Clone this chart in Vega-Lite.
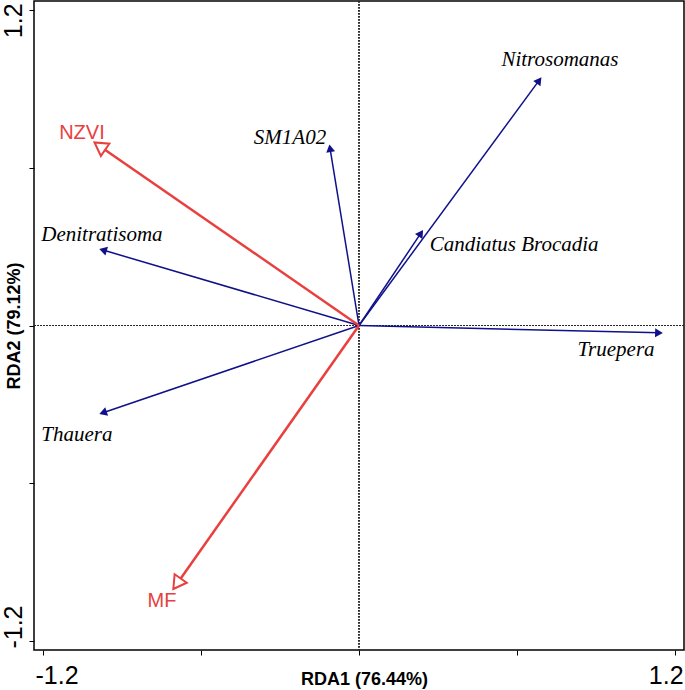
{
  "$schema": "https://vega.github.io/schema/vega-lite/v6.json",
  "width": 650,
  "height": 649,
  "autosize": "none",
  "padding": {"left": 34, "top": 1, "right": 1, "bottom": 40},
  "background": "white",
  "config": {
    "view": {"stroke": "black", "strokeWidth": 1.5},
    "axis": {
      "grid": false,
      "domain": false,
      "ticks": true,
      "tickColor": "black",
      "tickSize": 5,
      "tickWidth": 1,
      "labelFont": "Liberation Sans",
      "labelFontSize": 25,
      "labelColor": "black",
      "titleFont": "Liberation Sans",
      "titleFontSize": 18,
      "titleFontWeight": "bold",
      "titleColor": "black"
    }
  },
  "data": {
    "values": [
      {"name": "Nitrosomanas", "type": "species", "x": 0.684, "y": 0.932, "lx": 0.763, "ly": 1.008},
      {"name": "Candiatus Brocadia", "type": "species", "x": 0.235, "y": 0.351, "lx": 0.589, "ly": 0.306},
      {"name": "SM1A02", "type": "species", "x": -0.110, "y": 0.674, "lx": -0.262, "ly": 0.712},
      {"name": "Denitratisoma", "type": "species", "x": -0.972, "y": 0.287, "lx": -0.976, "ly": 0.344},
      {"name": "Thauera", "type": "species", "x": -0.972, "y": -0.332, "lx": -1.071, "ly": -0.416},
      {"name": "Truepera", "type": "species", "x": 1.139, "y": -0.028, "lx": 0.976, "ly": -0.093},
      {"name": "NZVI", "type": "env", "x": -0.984, "y": 0.682, "lx": -1.052, "ly": 0.731},
      {"name": "MF", "type": "env", "x": -0.691, "y": -0.982, "lx": -0.748, "ly": -1.046}
    ]
  },
  "transform": [
    {"calculate": "atan2(datum.x, datum.y) * 180 / PI", "as": "ang"}
  ],
  "encoding": {
    "x": {
      "field": "x", "type": "quantitative",
      "scale": {"domain": [-1.234, 1.234], "nice": false, "zero": false},
      "axis": {
        "title": "RDA1 (76.44%)",
        "titleX": 330,
        "values": [-1.2, -0.6, 0, 0.6, 1.2],
        "labelExpr": "datum.value < -1 ? '-1.2' : (datum.value > 1 ? '1.2' : '')",
        "labelFlush": 15,
        "labelFlushOffset": 8,
        "labelPadding": 8,
        "titlePadding": -18
      }
    },
    "y": {
      "field": "y", "type": "quantitative",
      "scale": {"domain": [-1.234, 1.234], "nice": false, "zero": false},
      "axis": {
        "title": "RDA2 (79.12%)",
        "values": [-1.2, -0.6, 0, 0.6, 1.2],
        "labelExpr": "datum.value < -1 ? '-1.2' : (datum.value > 1 ? '1.2' : '')",
        "labelAngle": -90,
        "labelFlush": false,
        "labelAlign": {"condition": {"test": "datum.value > 0", "value": "right"}, "value": "left"},
        "labelOffset": {"condition": {"test": "datum.value > 0", "value": -7}, "value": 7},
        "labelPadding": 3,
        "titlePadding": -22
      }
    }
  },
  "layer": [
    {
      "mark": {"type": "rule", "stroke": "#222", "strokeWidth": 0.6, "strokeDash": [1.5, 1.5]},
      "encoding": {"x": {"datum": 0}, "y": null}
    },
    {
      "mark": {"type": "rule", "stroke": "#222", "strokeWidth": 0.6, "strokeDash": [1.5, 1.5]},
      "encoding": {"y": {"datum": 0}, "x": null}
    },
    {
      "transform": [{"filter": "datum.type == 'species'"}],
      "mark": {"type": "rule", "stroke": "#10108a", "strokeWidth": 1.5},
      "encoding": {"x2": {"datum": 0}, "y2": {"datum": 0}}
    },
    {
      "transform": [{"filter": "datum.type == 'species'"}],
      "mark": {"type": "point", "shape": "triangle-up", "filled": true, "color": "#10108a", "size": 80, "opacity": 1},
      "encoding": {"angle": {"field": "ang", "type": "quantitative", "scale": null}}
    },
    {
      "transform": [{"filter": "datum.type == 'env'"}],
      "mark": {"type": "rule", "stroke": "#e8403e", "strokeWidth": 2.5},
      "encoding": {"x2": {"datum": 0}, "y2": {"datum": 0}}
    },
    {
      "transform": [{"filter": "datum.type == 'env'"}],
      "mark": {"type": "point", "shape": "triangle-up", "filled": true, "fill": "white", "stroke": "#e8403e", "strokeWidth": 2, "size": 220, "opacity": 1},
      "encoding": {"angle": {"field": "ang", "type": "quantitative", "scale": null}}
    },
    {
      "transform": [{"filter": "datum.type == 'species'"}],
      "mark": {"type": "text", "font": "Liberation Serif", "fontStyle": "italic", "fontSize": 21, "color": "black", "align": "center", "baseline": "middle"},
      "encoding": {
        "x": {"field": "lx", "type": "quantitative"},
        "y": {"field": "ly", "type": "quantitative"},
        "text": {"field": "name"}
      }
    },
    {
      "transform": [{"filter": "datum.type == 'env'"}],
      "mark": {"type": "text", "font": "Liberation Sans", "fontSize": 20, "color": "#e8403e", "align": "center", "baseline": "middle"},
      "encoding": {
        "x": {"field": "lx", "type": "quantitative"},
        "y": {"field": "ly", "type": "quantitative"},
        "text": {"field": "name"}
      }
    }
  ]
}
